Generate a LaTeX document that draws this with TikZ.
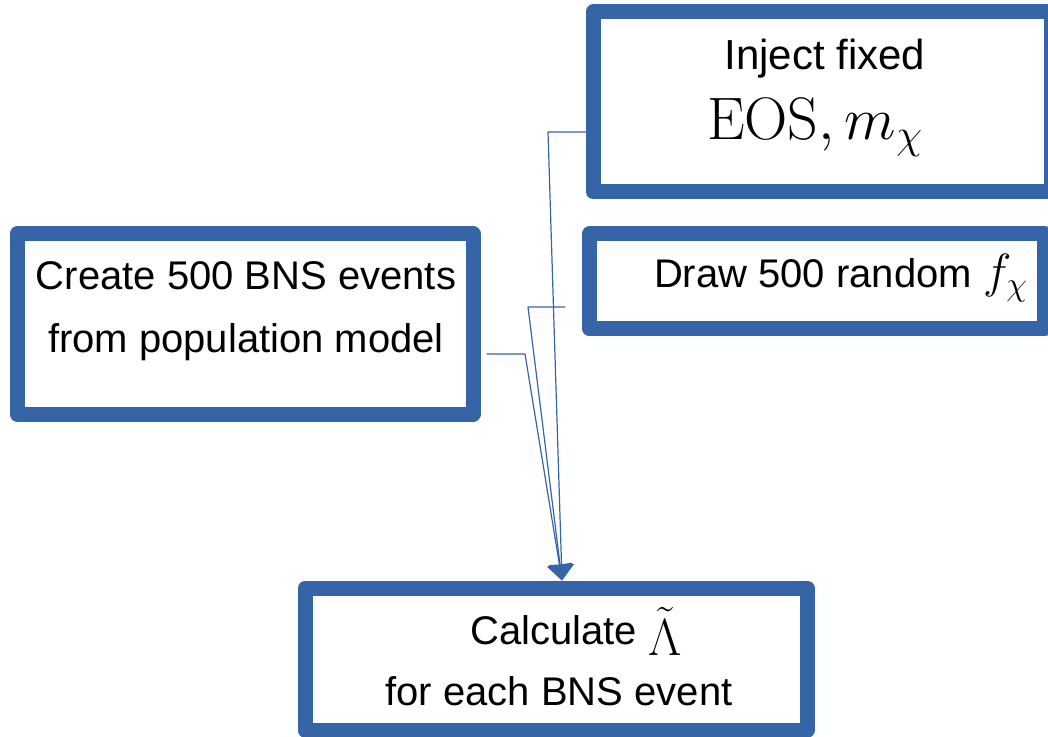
\RequirePackage{fix-cm}
\documentclass[tikz,border=0pt]{standalone}
\usepackage[no-math]{fontspec}
\setmainfont{Liberation Sans}
\usetikzlibrary{arrows.meta}
\definecolor{bnsblue}{HTML}{3565A6}
\tikzset{
  box/.style={draw=bnsblue,line width=7.5pt,line join=round,inner sep=0pt},
  txt/.style={anchor=base,inner sep=0pt,font=\fontsize{20}{24}\selectfont},
  conn/.style={draw=bnsblue,line width=0.6pt,-{Triangle[width=12.5pt,length=8pt]}}
}
\begin{document}
\begin{tikzpicture}[x=0.5pt,y=-0.5pt,line cap=round,line join=round]
  \useasboundingbox (0,0) rectangle (1048,737);
  \node[box,minimum width=229pt,minimum height=90pt] (inject) at (822,102) {};
  \node[box,minimum width=227.5pt,minimum height=47.5pt] (draw) at (817,281.5) {};
  \node[box,minimum width=228pt,minimum height=90pt] (create) at (245,324) {};
  \node[box,minimum width=251pt,minimum height=71pt] (calc) at (556,659) {};
  \node[txt,font=\fontsize{21}{25}\selectfont] (injectA) at (825,70) {Inject fixed};
  \node[txt] (injectB) at (815,140) {\fontsize{30}{34}\selectfont$\mathrm{EOS},m_\chi$};
  \node[txt] (drawA) at (841,288) {Draw 500 random {\fontsize{24}{28}\selectfont$f_\chi$}};
  \node[txt] (createA) at (246,290) {Create 500 BNS events};
  \node[txt] (createB) at (246,352) {from population model};
  \node[txt] (calcA) at (576,644) {Calculate \raisebox{-5.5pt}{\fontsize{26}{30}\selectfont$\tilde\Lambda$}};
  \node[txt] (calcB) at (559,705) {for each BNS event};
  \coordinate (tip) at ([xshift=3pt]calc.north);
  \coordinate (k1) at (548,132);
  \coordinate (d0) at (565,307);
  \coordinate (d1) at (528,307);
  \coordinate (c0) at (487,354);
  \coordinate (c1) at (525,354);
  \draw[conn] (inject.west |- k1) -- (k1) -- (tip);
  \draw[conn] (d0) -- (d1) -- (tip);
  \draw[conn] (c0) -- (c1) -- (tip);
\end{tikzpicture}
\end{document}
